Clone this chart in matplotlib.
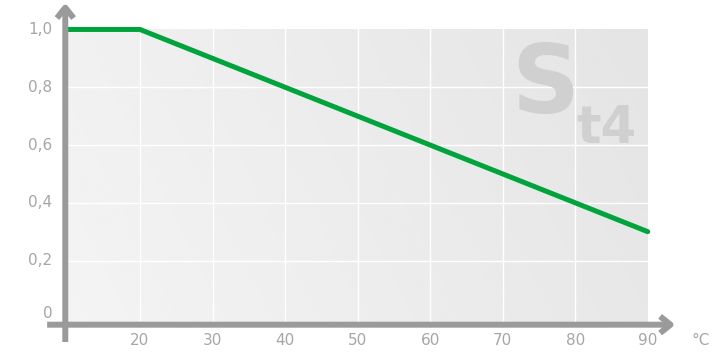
import numpy as np
import matplotlib.pyplot as plt

# derating curve: factor vs temperature
temps = [10, 20, 90]
factor = [1.0, 1.0, 0.3]

x_ticks = [20, 30, 40, 50, 60, 70, 80, 90]
y_ticks = [0, 0.2, 0.4, 0.6, 0.8, 1.0]
y_labels = ['0', '0,2', '0,4', '0,6', '0,8', '1,0']

axis_col = '#9a9a9a'
text_col = '#a6a6a6'
green = '#00a33c'

fig = plt.figure(figsize=(7.13, 3.53), dpi=100)
ax = fig.add_axes([0, 0, 1, 1])
ax.set_xlim(0.7, 99.0)
ax.set_ylim(-0.12, 1.102)
ax.axis('off')

# background gradient box
nx, ny = 200, 100
gx = np.linspace(0, 1, nx)
gy = np.linspace(0, 1, ny)
GX, GY = np.meshgrid(gx, gy)
grad = 0.955 - 0.06 * (0.8 * GX + 0.2 * GY)
ax.imshow(grad, extent=[10, 90, -0.012, 1.0], origin='lower', cmap='gray',
          vmin=0, vmax=1, aspect='auto', zorder=0, interpolation='bicubic')

# grid
for xv in x_ticks[:-1]:
    ax.plot([xv, xv], [-0.012, 1.0], color='white', lw=1.0, zorder=1)
for yv in y_ticks[1:-1]:
    ax.plot([10, 90], [yv, yv], color='white', lw=1.0, zorder=1)

# watermark
ax.text(75.9, 0.80, 'S', fontsize=68, fontweight='bold', color='#d0d0d0',
        ha='center', va='center', zorder=2)
ax.text(84.3, 0.655, 't4', fontsize=37, fontweight='bold', color='#d0d0d0',
        ha='center', va='center', zorder=2)

# curve
ax.plot(temps, factor, color=green, lw=3.6, solid_capstyle='round',
        solid_joinstyle='round', zorder=4)

# axes with arrows
arrow = dict(arrowstyle='->,head_length=0.75,head_width=0.6', lw=4.3,
             color=axis_col, shrinkA=0, shrinkB=0, capstyle='butt')
ax.annotate('', xy=(93.8, -0.022), xytext=(7.2, -0.022), arrowprops=arrow, zorder=5)
ax.annotate('', xy=(9.7, 1.092), xytext=(9.7, -0.082), arrowprops=arrow, zorder=5)

# tick labels
for xv in x_ticks:
    ax.text(xv, -0.076, str(xv), fontsize=11, color=text_col, ha='center', va='center')
ax.text(97.3, -0.076, '°C', fontsize=11, color=text_col, ha='center', va='center')
for yv, lab in zip(y_ticks, y_labels):
    yy = 0.018 if yv == 0 else yv
    ax.text(7.9, yy, lab, fontsize=11, color=text_col, ha='right', va='center')

fig.savefig('out.png', dpi=100)
